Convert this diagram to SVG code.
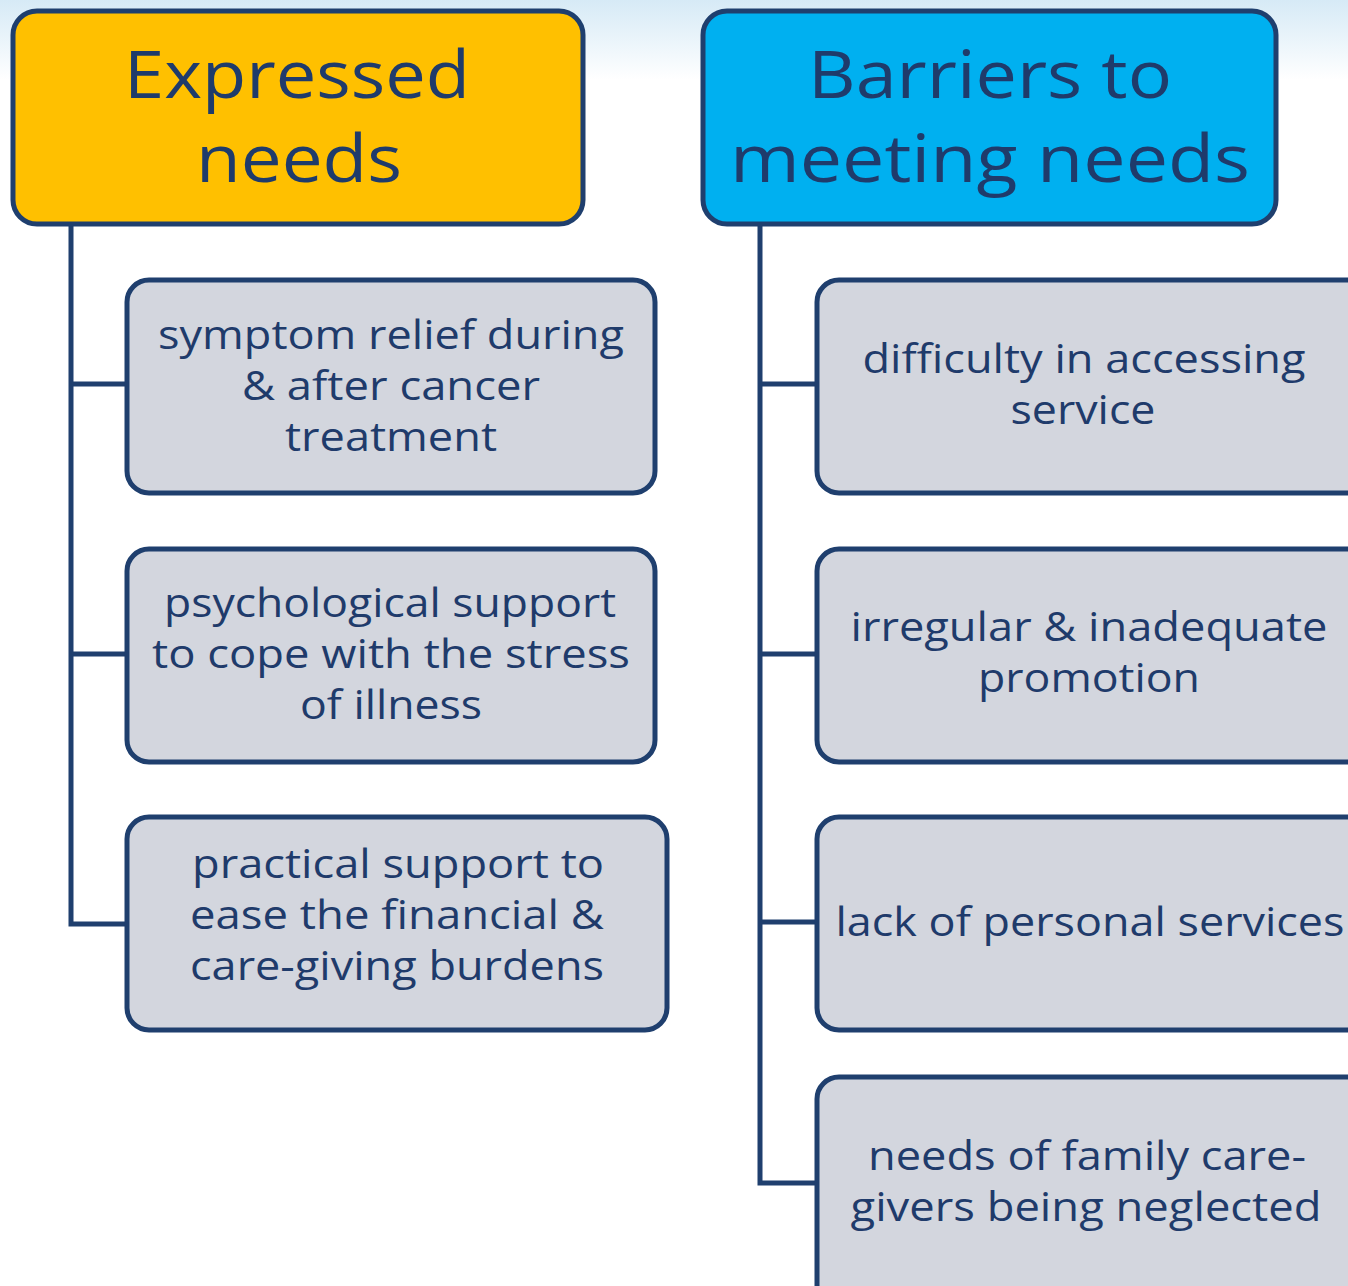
<svg xmlns="http://www.w3.org/2000/svg" width="1348" height="1286" viewBox="0 0 1348 1286">
<defs>
<linearGradient id="bg" x1="0" y1="0" x2="0" y2="1">
<stop offset="0" stop-color="#d6eaf6"/>
<stop offset="1" stop-color="#ffffff"/>
</linearGradient>
</defs>
<style>
.hdr{stroke:#1f3f6e;stroke-width:5}
.box{fill:#d3d6de;stroke:#1f3f6e;stroke-width:5}
.ln{fill:none;stroke:#1f3f6e;stroke-width:5}
text{font-family:"Open Sans","Lato",sans-serif;fill:#1f3b6b;text-anchor:middle}
.t{font-size:66px}
.b{font-size:41px}
</style>
<rect x="0" y="0" width="1348" height="1286" fill="#ffffff"/>
<rect x="0" y="0" width="1348" height="80" fill="url(#bg)"/>
<g id="connectors">
<path class="ln" d="M71 225 V924 H127 M71 384 H127 M71 654 H127"/>
<path class="ln" d="M760 225 V1183 H817 M760 384 H817 M760 654 H817 M760 922 H817"/>
</g>
<g id="expressed">
<rect class="hdr" x="13" y="11" width="570" height="213" rx="24" fill="#ffc000"/>
<text class="t" x="297" y="98" textLength="346" lengthAdjust="spacingAndGlyphs">Expressed</text>
<text class="t" x="299" y="182" textLength="206" lengthAdjust="spacingAndGlyphs">needs</text>
</g>
<g id="barriers">
<rect class="hdr" x="703" y="11" width="573" height="213" rx="24" fill="#00b0f0"/>
<text class="t" x="990" y="98" textLength="364" lengthAdjust="spacingAndGlyphs">Barriers to</text>
<text class="t" x="990" y="182" textLength="520" lengthAdjust="spacingAndGlyphs">meeting needs</text>
</g>
<g id="symptom">
<rect class="box" x="127" y="280" width="528" height="213" rx="22"/>
<text class="b" x="391" y="349" textLength="466" lengthAdjust="spacingAndGlyphs">symptom relief during</text>
<text class="b" x="391" y="400" textLength="298" lengthAdjust="spacingAndGlyphs">&amp; after cancer</text>
<text class="b" x="391" y="451" textLength="212" lengthAdjust="spacingAndGlyphs">treatment</text>
</g>
<g id="psych">
<rect class="box" x="127" y="549" width="528" height="213" rx="22"/>
<text class="b" x="390" y="617" textLength="452" lengthAdjust="spacingAndGlyphs">psychological support</text>
<text class="b" x="391" y="668" textLength="478" lengthAdjust="spacingAndGlyphs">to cope with the stress</text>
<text class="b" x="391" y="719" textLength="182" lengthAdjust="spacingAndGlyphs">of illness</text>
</g>
<g id="practical">
<rect class="box" x="127" y="817" width="540" height="213" rx="22"/>
<text class="b" x="398" y="878" textLength="412" lengthAdjust="spacingAndGlyphs">practical support to</text>
<text class="b" x="397" y="929" textLength="414" lengthAdjust="spacingAndGlyphs">ease the financial &amp;</text>
<text class="b" x="397" y="980" textLength="414" lengthAdjust="spacingAndGlyphs">care-giving burdens</text>
</g>
<g id="difficulty">
<rect class="box" x="817" y="280" width="560" height="213" rx="22"/>
<text class="b" x="1084" y="373" textLength="443" lengthAdjust="spacingAndGlyphs">difficulty in accessing</text>
<text class="b" x="1083" y="424" textLength="145" lengthAdjust="spacingAndGlyphs">service</text>
</g>
<g id="irregular">
<rect class="box" x="817" y="549" width="560" height="213" rx="22"/>
<text class="b" x="1089" y="641" textLength="477" lengthAdjust="spacingAndGlyphs">irregular &amp; inadequate</text>
<text class="b" x="1089" y="692" textLength="222" lengthAdjust="spacingAndGlyphs">promotion</text>
</g>
<g id="lack">
<rect class="box" x="817" y="817" width="560" height="213" rx="22"/>
<text class="b" x="1090" y="936" textLength="509" lengthAdjust="spacingAndGlyphs">lack of personal services</text>
</g>
<g id="family">
<rect class="box" x="817" y="1077" width="560" height="230" rx="22"/>
<text class="b" x="1087" y="1170" textLength="438" lengthAdjust="spacingAndGlyphs">needs of family care-</text>
<text class="b" x="1086" y="1221" textLength="471" lengthAdjust="spacingAndGlyphs">givers being neglected</text>
</g>
</svg>
